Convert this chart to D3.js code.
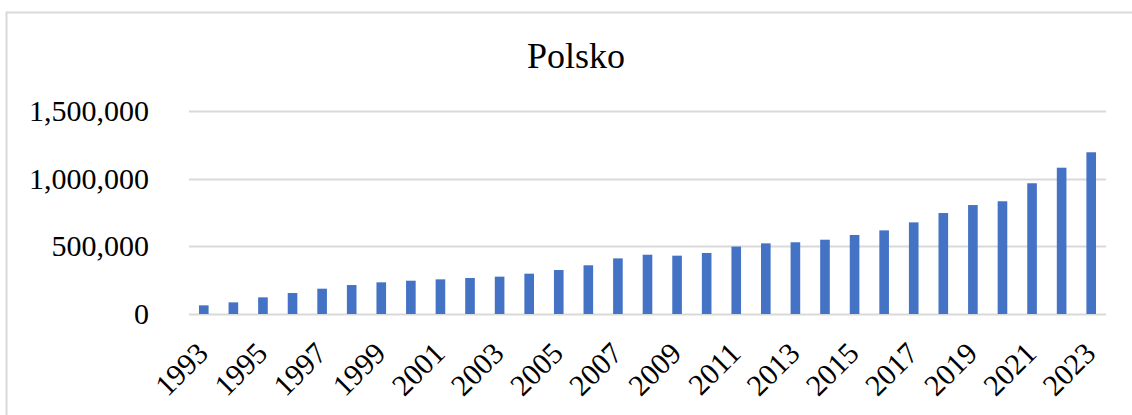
<html lang="pl">

<head>
  <meta charset="UTF-8" />
  <title>Polsko</title>
  <style>
    body,
    html {
      margin: 0;
      padding: 0;
      background: white;
      overflow: hidden;
    }

    .title {
      font-family: "Liberation Serif", "Times New Roman", serif;
      font-size: 36px;
    }

    .axis text {
      font-family: "Liberation Serif", "Times New Roman", serif;
      fill: black;
    }
  </style>
</head>

<body>
  <div id="canvas"></div>
  <script src="https://cdn.jsdelivr.net/npm/d3@7/dist/d3.min.js"></script>
  <script>
    // values
    const years = [1993, 1994, 1995, 1996, 1997, 1998, 1999, 2000, 2001, 2002,
      2003, 2004, 2005, 2006, 2007, 2008, 2009, 2010, 2011, 2012,
      2013, 2014, 2015, 2016, 2017, 2018, 2019, 2020, 2021, 2022, 2023
    ];
    const values = [64000, 86000, 123000, 155000, 187000, 214000, 234000, 246000, 256000, 266000,
      276000, 298000, 325000, 360000, 411000, 438000, 431000, 451000, 498000, 522000,
      530000, 549000, 584000, 618000, 677000, 746000, 805000, 833000, 966000, 1081000, 1195000
    ];
    const yTicks = [0, 500000, 1000000, 1500000];
    const xTickLabels = years.filter(function(y) {
      return (y - 1993) % 2 === 0
    });

    const w = 1132;
    const h = 415;
    const margin = {
      top: 111,
      left: 189,
      right: 26,
      bottom: 101
    };
    const width = w - margin.left - margin.right;
    const height = h - margin.top - margin.bottom;

    const svg = d3.select("#canvas")
      .append("svg")
      .attr("width", w)
      .attr("height", h);

    // chart frame
    svg.append("rect")
      .attr("x", 6.5)
      .attr("y", 12.5)
      .attr("width", 1160)
      .attr("height", 440)
      .style("fill", "none")
      .style("stroke", "#d9d9d9")
      .style("stroke-width", 2);

    svg.append("text")
      .attr("class", "title")
      .attr("x", 576)
      .attr("y", 68)
      .attr("text-anchor", "middle")
      .text("Polsko");

    const chart = svg.append("g")
      .attr("transform", "translate(" + margin.left + "," + margin.top + ")");

    const x = d3.scaleBand()
      .domain(years)
      .range([0, width])
      .paddingInner(0.675)
      .paddingOuter(0.3375);

    const y = d3.scaleLinear()
      .domain([0, 1500000])
      .range([height, 0]);

    // gridlines
    chart.append("g")
      .selectAll("line")
      .data(yTicks)
      .enter()
      .append("line")
      .attr("x1", 0)
      .attr("x2", width)
      .attr("y1", function(d) { return Math.round(y(d)) + 0.5 })
      .attr("y2", function(d) { return Math.round(y(d)) + 0.5 })
      .style("stroke", "#d9d9d9")
      .style("stroke-width", 2);

    const yAxis = d3.axisLeft(y)
      .tickValues(yTicks)
      .tickFormat(d3.format(","))
      .tickSize(0)
      .tickPadding(40);

    chart.append("g")
      .attr("class", "y axis")
      .call(yAxis)
      .call(function(g) { g.select(".domain").remove() })
      .selectAll("text")
      .style("font-size", "30px");

    // bars
    chart.selectAll(".bar")
      .data(values)
      .enter()
      .append("rect")
      .attr("class", "bar")
      .attr("x", function(d, i) { return x(years[i]) })
      .attr("width", x.bandwidth())
      .attr("y", function(d) { return y(d) })
      .attr("height", function(d) { return height - y(d) })
      .style("fill", "#4472c4");

    const xAxis = d3.axisBottom(x)
      .tickValues(xTickLabels)
      .tickSize(0);

    chart.append("g")
      .attr("class", "x axis")
      .attr("transform", "translate(0," + height + ")")
      .call(xAxis)
      .call(function(g) { g.select(".domain").remove() })
      .selectAll("text")
      .style("font-size", "30px")
      .attr("text-anchor", "end")
      .attr("dy", 0)
      .attr("transform", "translate(4,39) rotate(-45)");
  </script>
</body>

</html>
